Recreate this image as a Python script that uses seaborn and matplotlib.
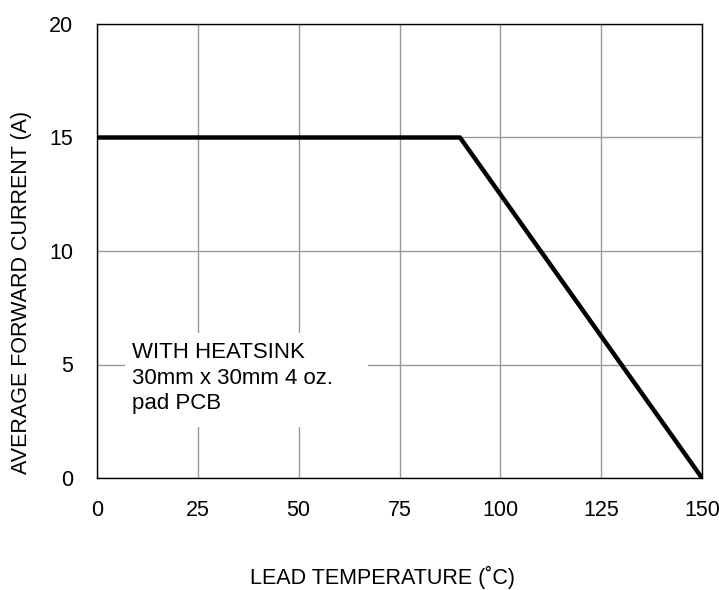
import matplotlib
matplotlib.use("Agg")
import matplotlib.pyplot as plt
from matplotlib.patches import Rectangle
import seaborn as sns
import pandas as pd

temps = [0, 90, 150]
current = [15, 15, 0]
x_ticks = [0, 25, 50, 75, 100, 125, 150]
y_ticks = [0, 5, 10, 15, 20]
note = "WITH HEATSINK\n30mm x 30mm 4 oz.\npad PCB"

sns.set_theme(style="white")
plt.rcParams['font.family'] = ['Liberation Sans', 'DejaVu Sans']
plt.rcParams['text.color'] = 'black'

df = pd.DataFrame({"temp": temps, "current": current})

fig = plt.figure(figsize=(7.19, 5.90), dpi=100)
ax = fig.add_axes([97/719, 1 - 478/590, (702-97)/719, (478-24)/590])

sns.lineplot(data=df, x="temp", y="current", ax=ax, color="black", linewidth=3.2, zorder=3)

ax.set_xlim(0, 150)
ax.set_ylim(0, 20)
ax.set_xticks(x_ticks)
ax.set_yticks(y_ticks)
ax.grid(True, color="#999999", linewidth=1.0)
for s in ax.spines.values():
    s.set_color("black")
    s.set_linewidth(1.0)
ax.tick_params(axis="x", labelsize=15.5, length=0, pad=16, colors="black")
ax.tick_params(axis="y", labelsize=15.5, length=0, pad=17, colors="black")
ax.set_xlabel("LEAD TEMPERATURE (˚C)", fontsize=15.5, color="black", va="center")
ax.set_ylabel("AVERAGE FORWARD CURRENT (A)", fontsize=15.5, color="black", va="center")
ax.xaxis.set_label_coords((382-97)/605, (478-577)/454)
ax.yaxis.set_label_coords((22-97)/605, (478-292)/454)

# white background behind the note
ax.add_patch(Rectangle((6.9, 2.25), 60.3, 4.15, facecolor="white", edgecolor="none", zorder=2.5))
ax.text(8.7, 5.98, note, fontsize=16, va="top", ha="left", linespacing=1.27,
        zorder=4, color="black")

fig.savefig("out.png", dpi=100)
